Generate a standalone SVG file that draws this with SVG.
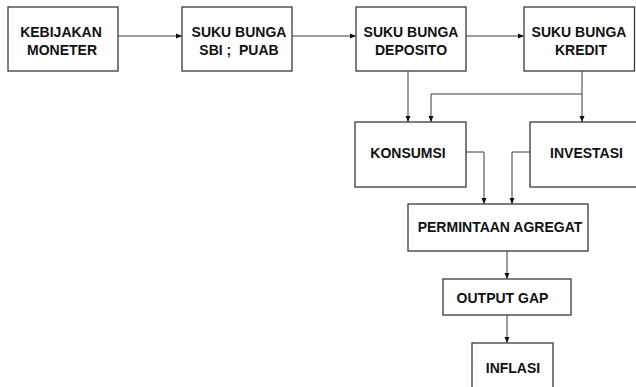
<svg xmlns="http://www.w3.org/2000/svg" width="636" height="387" viewBox="0 0 636 387">
<style>
.box{fill:#fff;stroke:#3a3a3a;stroke-width:1.3}
.t{font-family:"Liberation Sans",Arial,sans-serif;font-weight:bold;font-size:14px;fill:#111;text-anchor:middle;white-space:pre}
.c{fill:none;stroke:#3a3a3a;stroke-width:1}
</style>
<defs>
<marker id="ah" markerWidth="6" markerHeight="6" refX="6" refY="3" orient="auto" markerUnits="userSpaceOnUse">
<path d="M0,0.5 L6,3 L0,5.5 Z" fill="#111"/>
</marker>
</defs>
<rect width="636" height="387" fill="#fff"/>
<g id="connectors">
<path class="c" d="M118,36 H182" marker-end="url(#ah)"/>
<path class="c" d="M292,36 H356" marker-end="url(#ah)"/>
<path class="c" d="M466,36 H524" marker-end="url(#ah)"/>
<path class="c" d="M408,71 V122" marker-end="url(#ah)"/>
<path class="c" d="M582,71 V122" marker-end="url(#ah)"/>
<path class="c" d="M582,94 H431 V122" marker-end="url(#ah)"/>
<path class="c" d="M466,152 H484 V204" marker-end="url(#ah)"/>
<path class="c" d="M530,152 H512 V204" marker-end="url(#ah)"/>
<path class="c" d="M507,251 V279" marker-end="url(#ah)"/>
<path class="c" d="M507,315 V343" marker-end="url(#ah)"/>
</g>
<g id="kebijakan">
<rect class="box" x="8" y="7" width="110" height="64"/>
<text class="t" x="61" y="36.5">KEBIJAKAN</text>
<text class="t" x="62" y="54.5">MONETER</text>
</g>
<g id="sbi">
<rect class="box" x="182" y="7" width="110" height="64"/>
<text class="t" x="239" y="36.5">SUKU BUNGA</text>
<text class="t" x="239" y="54.5" xml:space="preserve">SBI ;  PUAB</text>
</g>
<g id="deposito">
<rect class="box" x="356" y="7" width="110" height="64"/>
<text class="t" x="411" y="36.5">SUKU BUNGA</text>
<text class="t" x="411" y="54.5">DEPOSITO</text>
</g>
<g id="kredit">
<rect class="box" x="524" y="7" width="110.5" height="64"/>
<text class="t" x="579" y="36.5">SUKU BUNGA</text>
<text class="t" x="581" y="54.5">KREDIT</text>
</g>
<g id="konsumsi">
<rect class="box" x="355" y="122" width="111" height="65"/>
<text class="t" x="408" y="157.5">KONSUMSI</text>
</g>
<g id="investasi">
<rect class="box" x="530" y="122" width="120" height="65"/>
<text class="t" x="586.5" y="157.5">INVESTASI</text>
</g>
<g id="permintaan">
<rect class="box" x="408" y="204" width="180" height="47"/>
<text class="t" x="500" y="231.5">PERMINTAAN AGREGAT</text>
</g>
<g id="outputgap">
<rect class="box" x="443" y="279" width="128" height="36"/>
<text class="t" x="502.5" y="302.5">OUTPUT GAP</text>
</g>
<g id="inflasi">
<rect class="box" x="472" y="343" width="81" height="60"/>
<text class="t" x="513" y="372.5">INFLASI</text>
</g>
</svg>
